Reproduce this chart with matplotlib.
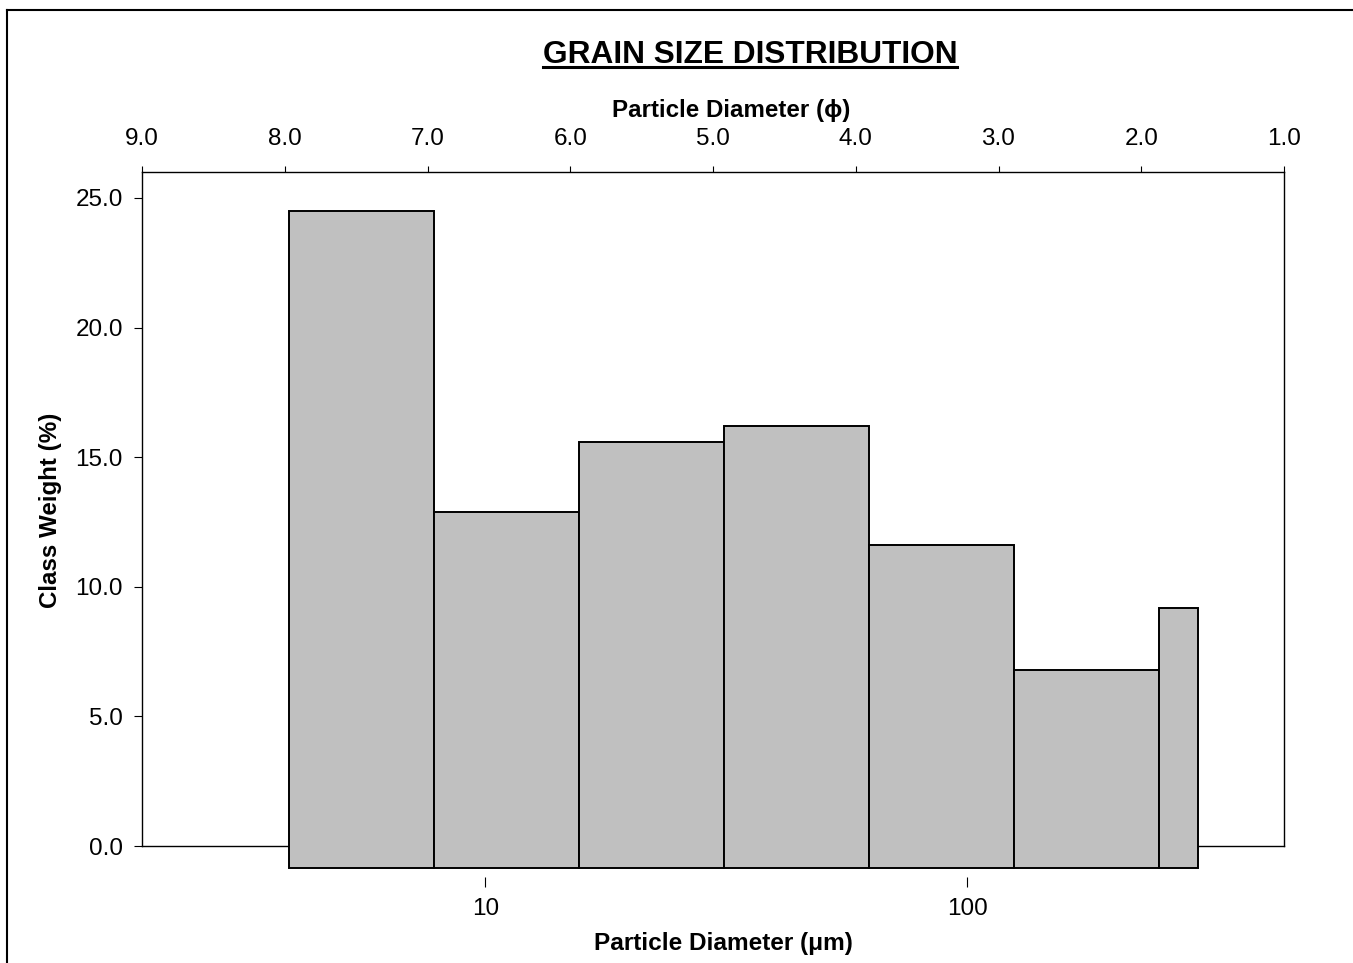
import numpy as np
import matplotlib
matplotlib.use("Agg")
import matplotlib.pyplot as plt
from matplotlib.lines import Line2D
from matplotlib.ticker import NullLocator

# Datos del histograma (bordes de clase en micras y peso de cada clase)
bordes_um = [3.91, 7.81, 15.63, 31.25, 62.5, 125.0, 250.0, 300.0]
pesos = [24.5, 12.9, 15.6, 16.2, 11.6, 6.8, 9.2]

# Ejes
ticks_phi = [9.0, 8.0, 7.0, 6.0, 5.0, 4.0, 3.0, 2.0, 1.0]
ticks_um = [10, 100]
etiquetas_um = ["10", "100"]
ticks_y = [0, 5, 10, 15, 20, 25]

plt.rcParams['font.family'] = ['Liberation Sans', 'DejaVu Sans']

W, H = 1353, 963
fig = plt.figure(figsize=(W / 100, H / 100), dpi=100)
ax = fig.add_axes([142 / W, 1 - 846 / H, (1284 - 142) / W, (846 - 172) / H])

ax.set_xscale('log')
ax.set_xlim(1.94, 453.4)
ax.set_ylim(0, 26)

# las barras bajan un poco por debajo del cero, como en el original
base = -0.85
anchos = np.diff(bordes_um)
ax.bar(bordes_um[:-1], np.array(pesos) - base, width=anchos, bottom=base,
       align='edge', color='#c0c0c0', edgecolor='black', linewidth=1.4,
       clip_on=False, zorder=3)
ax.axhline(0, color='black', lw=1, zorder=1, clip_on=False)

# eje inferior en micras (sin linea, solo marcas)
ax.spines['bottom'].set_position(('outward', 22))
ax.spines['bottom'].set_visible(False)
ax.spines['top'].set_visible(False)
for s in ['left', 'right']:
    ax.spines[s].set_linewidth(1)
ax.set_xticks(ticks_um)
ax.set_xticklabels(etiquetas_um)
ax.xaxis.set_minor_locator(NullLocator())
ax.tick_params(axis='x', which='major', length=7.2, width=0.8, pad=8, labelsize=17.5)

ax.set_yticks(ticks_y)
ax.set_yticklabels([f"{v:.1f}" for v in ticks_y])
ax.tick_params(axis='y', length=5.8, width=0.8, pad=8, labelsize=17.5)

ax.set_xlabel("Particle Diameter (μm)", fontsize=17.6, fontweight='bold', va='baseline')
ax.xaxis.set_label_coords((723 - 142) / 1142, (846 - 949.5) / 674)
ax.set_ylabel("Class Weight (%)", fontsize=17.4, fontweight='bold', va='center')
ax.yaxis.set_label_coords((50.5 - 142) / 1142, (846 - 510) / 674)

# eje superior en phi
ax2 = ax.twiny()
ax2.set_xlim(9, 1)
ax2.set_xticks(ticks_phi)
ax2.set_xticklabels([f"{v:.1f}" for v in ticks_phi])
ax2.tick_params(axis='x', length=4.6, width=0.8, pad=11, labelsize=17.5)
for s in ['bottom', 'left', 'right']:
    ax2.spines[s].set_visible(False)
ax2.spines['top'].set_linewidth(1)
ax2.set_xlabel("Particle Diameter (ϕ)", fontsize=17.4, fontweight='bold', va='baseline')
ax2.xaxis.set_label_coords((731.5 - 142) / 1142, (846 - 117.3) / 674)

# titulo subrayado
titulo = fig.text(750 / W, 1 - 63.3 / H, "GRAIN SIZE DISTRIBUTION", ha='center',
                  va='baseline', fontsize=22.8, fontweight='bold')
fig.canvas.draw()
bb = titulo.get_window_extent()
fig.add_artist(Line2D([bb.x0 / W, bb.x1 / W], [1 - 67 / H, 1 - 67 / H],
                      transform=fig.transFigure, color='black', lw=2.2))

# marco de la figura (se corta a la derecha y abajo)
fig.add_artist(Line2D([6.5 / W, 6.5 / W], [0, 1 - 10.3 / H], transform=fig.transFigure,
                      color='black', lw=1.5))
fig.add_artist(Line2D([6.5 / W, 1], [1 - 10.3 / H, 1 - 10.3 / H], transform=fig.transFigure,
                      color='black', lw=1.5))

fig.savefig("out.png", dpi=100)
